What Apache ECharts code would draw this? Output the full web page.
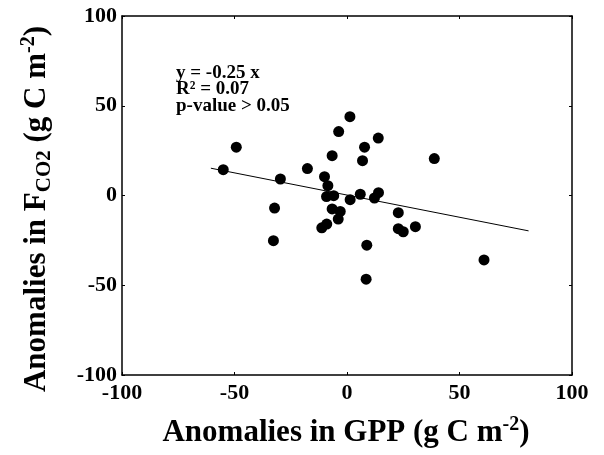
<!DOCTYPE html>
<html><head><meta charset="utf-8">
<script src="https://cdn.jsdelivr.net/npm/echarts@6/dist/echarts.min.js"></script>
<style>html,body{margin:0;padding:0;background:#fff}#c{width:604px;height:455px}</style>
</head><body><div id="c"></div>
<script>
var gppAnom = [-55.0,-49.2,-29.6,-32.2,-32.7,-17.6,-10.0,-8.5,-9.1,-5.9,-6.6,-3.0,-3.9,-11.2,-9.0,-6.6,-3.7,1.3,1.4,5.9,7.8,6.9,8.8,8.5,13.9,38.8,14.0,12.2,22.8,22.8,25.0,30.4,60.9];
var fco2Anom = [14.4,26.9,9.2,-7.0,-25.2,15.0,10.5,5.5,-0.6,-0.1,-7.5,-8.9,-13.1,-18.0,-15.9,22.2,35.6,43.9,-2.3,0.7,26.9,19.4,-27.7,-46.6,32.0,20.6,1.6,-1.4,-9.6,-18.5,-20.2,-17.4,-35.9];
var fitX = [-60.5, 80.7];
var fitY = [15.2, -19.7];
var axisTicks = [-100, -50, 0, 50, 100];
var eqLines = ['y = -0.25 x', 'R² = 0.07', 'p-value > 0.05'];

var pts = gppAnom.map(function(x,i){return [x, fco2Anom[i]];});
var fit = fitX.map(function(x,i){return [x, fitY[i]];});
var FONT = '"Liberation Serif", "Times New Roman", serif';
var chart = echarts.init(document.getElementById('c'));
var baseAxis = {
  min: axisTicks[0], max: axisTicks[axisTicks.length-1], interval: 50,
  splitLine: {show:false},
  axisLine: {show:true, onZero:false, lineStyle:{color:'#000', width:1.5}},
  axisTick: {show:true, inside:true, length:3, lineStyle:{color:'#000', width:1}}
};
function ax(extra){ return Object.assign({}, JSON.parse(JSON.stringify(baseAxis)), extra); }
var lblStyle = {color:'#000', fontFamily:FONT, fontWeight:'bold', fontSize:22};
var eqY = [73, 89, 106];
var graphics = eqLines.map(function(t,i){
  return {type:'text', x:176, y:eqY[i], style:{text:t, font:'bold 19px '+FONT, fill:'#000', verticalAlign:'middle'}};
});
graphics.push({type:'text', x:346, y:433, style:{
  text:'{t|Anomalies in GPP (g C m}{s|-2}{t|)}', align:'center', verticalAlign:'middle',
  rich:{t:{font:'bold 31px '+FONT, fill:'#000'}, s:{font:'bold 20px '+FONT, fill:'#000', padding:[0,0,16,0]}}
}});
graphics.push({type:'text', x:37, y:209, rotation:Math.PI/2, style:{
  text:'{t|Anomalies in F}{b|CO2}{t| (g C m}{s|-2}{t|)}', align:'center', verticalAlign:'middle',
  rich:{t:{font:'bold 31px '+FONT, fill:'#000'}, b:{font:'bold 21px '+FONT, fill:'#000', padding:[16,0,0,0]}, s:{font:'bold 20px '+FONT, fill:'#000', padding:[0,0,16,0]}}
}});
chart.setOption({
  animation:false,
  grid:{left:122, right:32, top:16, bottom:80, show:false},
  xAxis:[
    ax({type:'value', position:'bottom', axisLabel:Object.assign({margin:7}, lblStyle)}),
    ax({type:'value', position:'top', axisLabel:{show:false}})
  ],
  yAxis:[
    ax({type:'value', position:'left', axisLabel:Object.assign({margin:5}, lblStyle)}),
    ax({type:'value', position:'right', axisLabel:{show:false}})
  ],
  graphic:graphics,
  series:[
    {type:'scatter', data:pts, symbolSize:11, itemStyle:{color:'#000', opacity:1}, silent:true},
    {type:'line', data:fit, symbol:'none', lineStyle:{color:'#000', width:1}, silent:true}
  ]
});
</script></body></html>
